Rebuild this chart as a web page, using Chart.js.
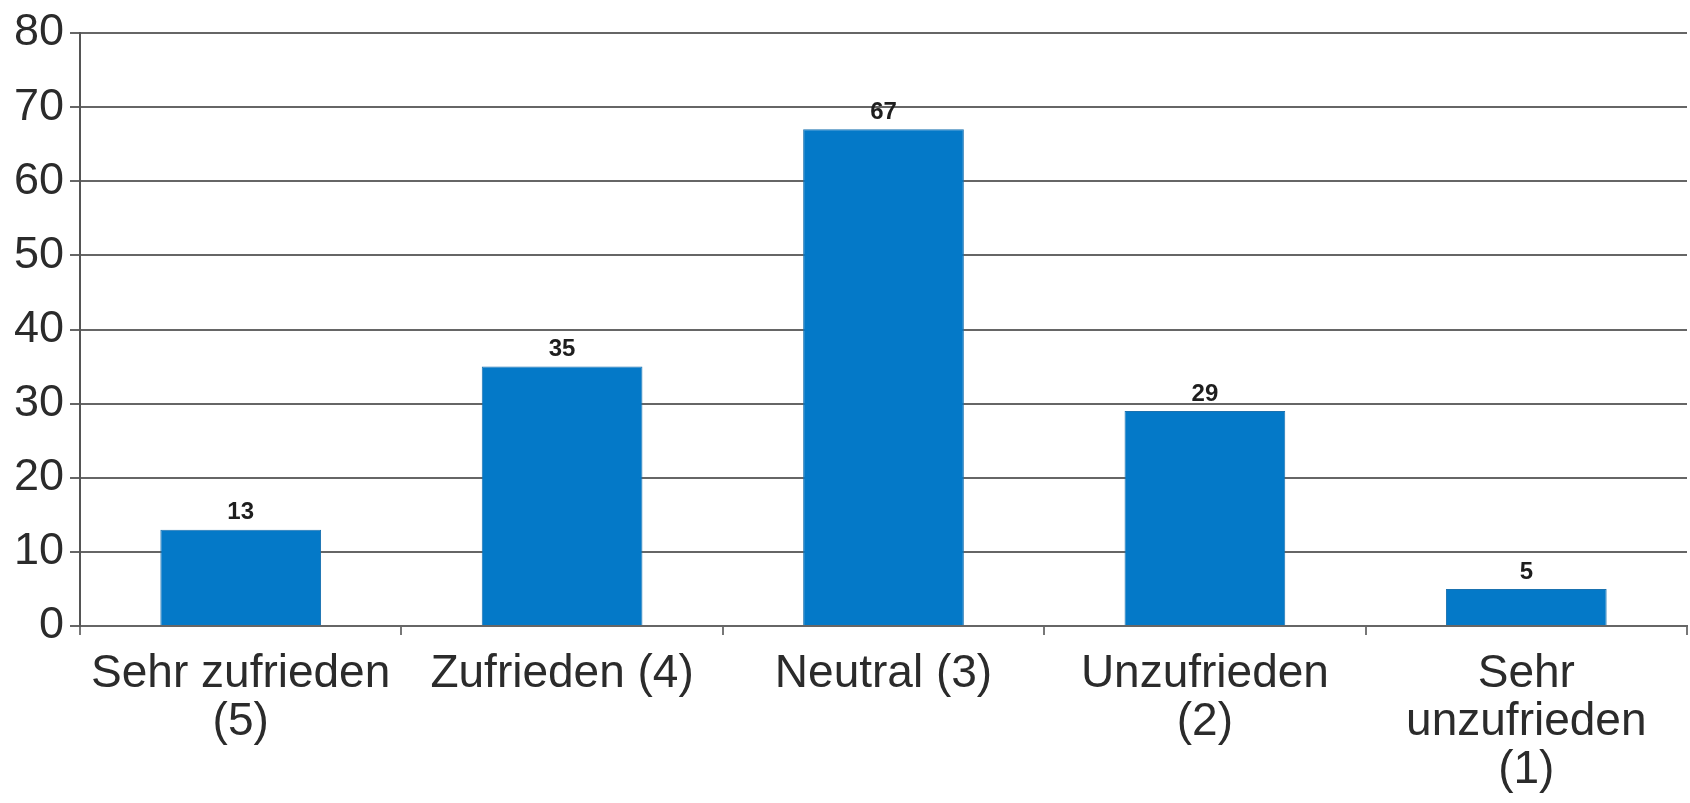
<!DOCTYPE html>
<html>
<head>
<meta charset="utf-8">
<script src="https://cdn.jsdelivr.net/npm/chart.js@4"></script>
<style>
  html, body { margin: 0; padding: 0; background: #fff; }
  #wrap { width: 1690px; height: 803px; }
</style>
</head>
<body>
<div id="wrap"><canvas id="bar_chart" width="1690" height="803"></canvas></div>
<script>
// data
const categories = [
    ["Sehr zufrieden", "(5)"],
    "Zufrieden (4)",
    "Neutral (3)",
    ["Unzufrieden", "(2)"],
    ["Sehr", "unzufrieden", "(1)"]
];
const counts = [13, 35, 67, 29, 5];
const yTicks = [0, 10, 20, 30, 40, 50, 60, 70, 80];

const FONT = "'Liberation Sans', Arial, sans-serif";

// draws the number above each bar
const valueLabels = {
    id: "valueLabels",
    afterDatasetsDraw(chart) {
        var ctx = chart.ctx;
        var meta = chart.getDatasetMeta(0);
        ctx.save();
        ctx.font = "bold 24px " + FONT;
        ctx.fillStyle = "#1e1e1e";
        ctx.textAlign = "center";
        ctx.textBaseline = "bottom";
        meta.data.forEach(function (bar, i) {
            ctx.fillText(String(counts[i]), bar.x, bar.y - 5);
        });
        ctx.restore();
    }
};

new Chart("bar_chart", {
    type: "bar",
    data: {
        labels: categories,
        datasets: [{
            data: counts,
            backgroundColor: "#0479c8",
            borderColor: "#1a72b0",
            borderWidth: 1,
            categoryPercentage: 1.0,
            barPercentage: 0.5
        }]
    },
    plugins: [valueLabels],
    options: {
        responsive: false,
        animation: false,
        layout: { padding: { top: 31, right: 3, left: 0, bottom: 0 } },
        plugins: {
            legend: { display: false },
            tooltip: { enabled: false }
        },
        scales: {
            x: {
                offset: true,
                grid: {
                    offset: true,
                    drawOnChartArea: false,
                    drawTicks: true,
                    tickLength: 9,
                    color: "#777",
                    lineWidth: 2
                },
                border: { display: true, color: "#666", width: 2 },
                ticks: {
                    color: "#2b2b2b",
                    font: { family: FONT, size: 46, lineHeight: "48px" },
                    padding: 15,
                    maxRotation: 0,
                    autoSkip: false
                },
                afterFit(scale) { scale.height = 177; }
            },
            y: {
                min: 0,
                max: 80,
                afterBuildTicks(scale) {
                    scale.ticks = yTicks.map(function (v) { return { value: v }; });
                },
                grid: {
                    color: "#666",
                    lineWidth: 2,
                    drawTicks: true,
                    tickLength: 10
                },
                border: { display: true, color: "#555", width: 2 },
                ticks: {
                    color: "#2b2b2b",
                    font: { family: FONT, size: 45 },
                    padding: 6
                },
                afterFit(scale) { scale.width = 80; }
            }
        }
    }
});
</script>
</body>
</html>
